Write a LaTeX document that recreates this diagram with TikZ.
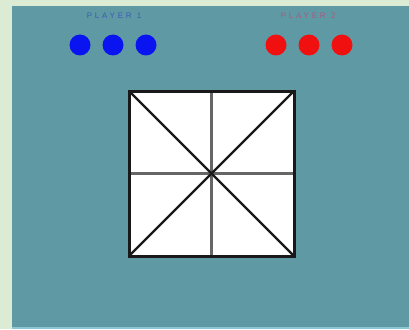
\documentclass[tikz,border=0pt]{standalone}
\usepackage{fontspec}
\setmainfont{Liberation Sans}
\definecolor{frame}{HTML}{DCEBD4}
\definecolor{teal}{HTML}{5F9AA4}
\definecolor{bline}{HTML}{8CC6D2}
\definecolor{pblue}{HTML}{0A14F0}
\definecolor{pred}{HTML}{F01010}
\definecolor{lblue}{HTML}{3A5CB0}
\definecolor{lred}{HTML}{A85A80}
\tikzset{
  bdot/.style={circle,fill=pblue,draw=none,minimum size=21pt,inner sep=0pt},
  rdot/.style={circle,fill=pred,draw=none,minimum size=21pt,inner sep=0pt},
  plabel/.style={font=\fontsize{8}{9}\selectfont\addfontfeatures{LetterSpace=35},inner sep=0pt},
  gridline/.style={draw=gray!80!black,line width=2.6pt},
  diag/.style={draw=black!90,line width=2.2pt},
}
\begin{document}
\begin{tikzpicture}[x=1pt,y=-1pt]
\fill[frame] (0,0) rectangle (409,329);
\useasboundingbox (0,0) rectangle (409,329);
\fill[teal] (12,6) rectangle (409,327);
\fill[bline] (12,327) rectangle (409,329);
% labels
\node[plabel,text=lblue] (l1) at (114,16) {PLAYER 1};
\node[plabel,text=lred] (l2) at (308,16) {PLAYER 2};
% dots
\node[bdot] (b1) at (80,45) {};
\node[bdot] (b2) at (113,45) {};
\node[bdot] (b3) at (146,45) {};
\node[rdot] (r1) at (276,45) {};
\node[rdot] (r2) at (309,45) {};
\node[rdot] (r3) at (342,45) {};
% board
\coordinate (tl) at (129,91);
\coordinate (tr) at (294,91);
\coordinate (bl) at (129,256);
\coordinate (br) at (294,256);
\coordinate (tm) at (211.5,91);
\coordinate (bm) at (211.5,256);
\coordinate (lm) at (129,173.5);
\coordinate (rm) at (294,173.5);
\fill[white] (tl) rectangle (br);
\draw[gridline] (tm) -- (bm);
\draw[gridline] (lm) -- (rm);
\draw[diag] (tl) -- (br);
\draw[diag] (tr) -- (bl);
\draw[black!90,line width=3pt] (tl) rectangle (br);
\end{tikzpicture}
\end{document}
